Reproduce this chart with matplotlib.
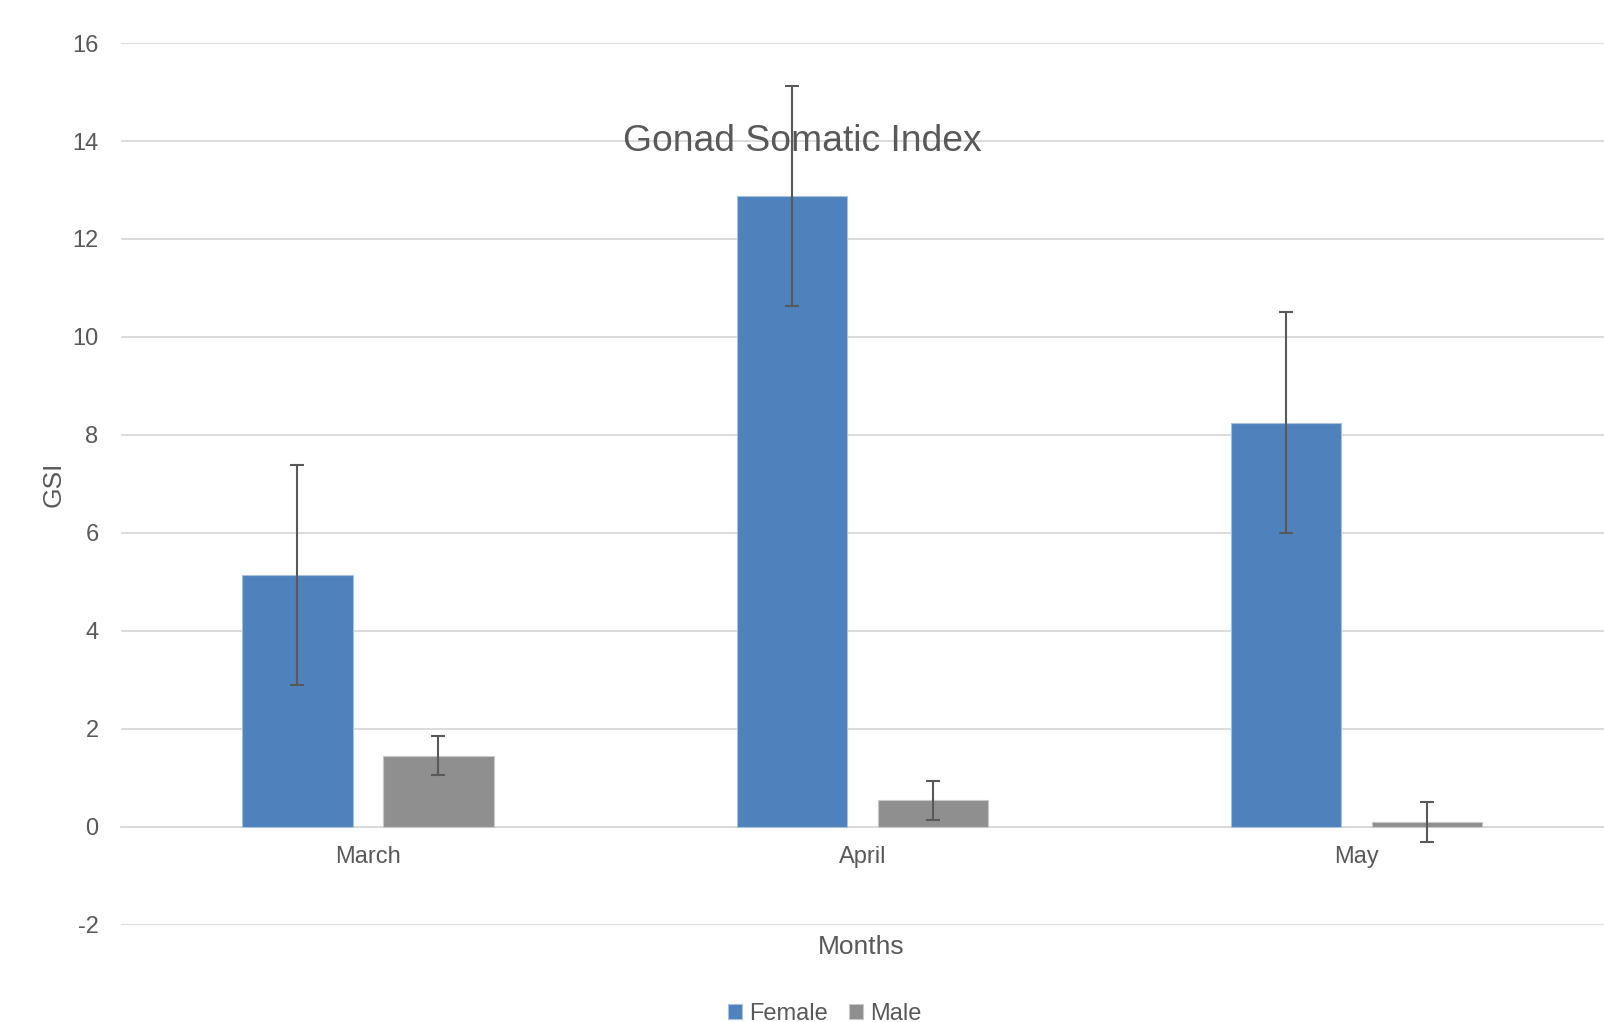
import matplotlib.pyplot as plt
import numpy as np

months = ["March", "April", "May"]
female = [5.14, 12.88, 8.25]
male = [1.45, 0.54, 0.10]
female_err = [2.25, 2.24, 2.25]
male_err = [0.40, 0.40, 0.40]

BLUE = "#4F81BD"
GREY = "#8F8F8F"
TEXT = "#595959"
GRID = "#D9D9D9"

plt.rcParams['font.family'] = ['Liberation Sans', 'DejaVu Sans']
plt.rcParams['axes.unicode_minus'] = False

fig = plt.figure(figsize=(16.04, 10.22), dpi=100)
ax = fig.add_axes([0.0753, 0.0951, 0.9247, 0.8628])

x = np.arange(len(months))
w = 0.223
off = 0.1426
err_kw = dict(ecolor=TEXT, elinewidth=1.5, capsize=5, capthick=1.5)
ax.bar(x - off, female, w, yerr=female_err, color=BLUE, edgecolor="#A7C0DE",
       linewidth=0.8, label="Female", error_kw=err_kw, zorder=3)
ax.bar(x + off, male, w, yerr=male_err, color=GREY, edgecolor="#C8C8C8",
       linewidth=0.8, label="Male", error_kw=err_kw, zorder=3)

ax.set_xlim(-0.5, 2.5)
ax.set_ylim(-2, 16)
ax.set_yticks(range(-2, 17, 2))
ax.grid(axis="y", color=GRID, linewidth=1.3, zorder=0)
ax.set_axisbelow(True)

for s in ["top", "right", "left"]:
    ax.spines[s].set_visible(False)
ax.spines["bottom"].set_position(("data", 0))
ax.spines["bottom"].set_color(GRID)
ax.spines["bottom"].set_linewidth(1.3)

ax.set_xticks(x)
ax.set_xticklabels(months)
ax.tick_params(axis="x", length=0, pad=14, labelsize=17, labelcolor=TEXT)
ax.tick_params(axis="y", length=0, pad=16, labelsize=17, labelcolor=TEXT)

ax.set_ylabel("GSI", fontsize=19, color=TEXT, labelpad=5)
fig.text(0.537, 0.0735, "Months", ha="center", va="center", fontsize=19, color=TEXT)
fig.text(0.5, 0.862, "Gonad Somatic Index", ha="center", va="center", fontsize=26.8, color=TEXT)

fig.legend(loc="center", bbox_to_anchor=(0.514, 0.008), ncol=2, frameon=False,
           fontsize=17, labelcolor=TEXT, handlelength=0.6, handleheight=0.6,
           handletextpad=0.3, columnspacing=0.9)

fig.savefig("out.png", dpi=100)
